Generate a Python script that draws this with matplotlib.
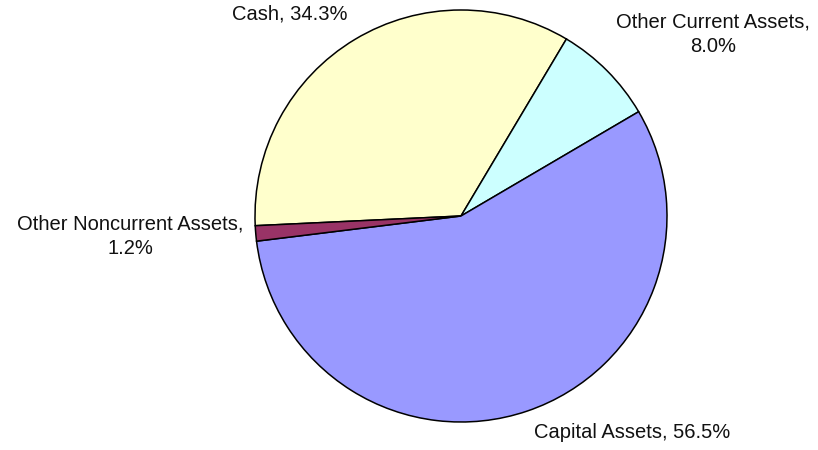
import matplotlib
matplotlib.use("Agg")
import matplotlib.pyplot as plt

labels = ["Cash", "Other Current Assets", "Capital Assets", "Other Noncurrent Assets"]
values = [34.3, 8.0, 56.5, 1.2]
colors = ["#FFFFCC", "#CCFFFF", "#9999FF", "#993366"]
label_texts = ["Cash, 34.3%", "Other Current Assets,\n8.0%", "Capital Assets, 56.5%",
               "Other Noncurrent Assets,\n1.2%"]
label_pos = [(290, 14), (713, 34), (632, 433), (130, 236)]  # pixel coords (y from top)

W, H = 818, 450
fig = plt.figure(figsize=(W / 100, H / 100), dpi=100)
ax = fig.add_axes([0, 0, 1, 1])

ax.pie(values, colors=colors, startangle=182.7, counterclock=False,
       center=(461, H - 216), radius=206,
       wedgeprops=dict(edgecolor="black", linewidth=1.1), frame=True)

for t, (px, py) in zip(label_texts, label_pos):
    ax.text(px, H - py, t, ha="center", va="center", fontsize=14.5,
            family="Liberation Sans", color="#111111", linespacing=1.35,
            multialignment="center")

ax.set_xlim(0, W)
ax.set_ylim(0, H)
ax.set_aspect("equal")
ax.axis("off")
fig.savefig("out.png", dpi=100)
